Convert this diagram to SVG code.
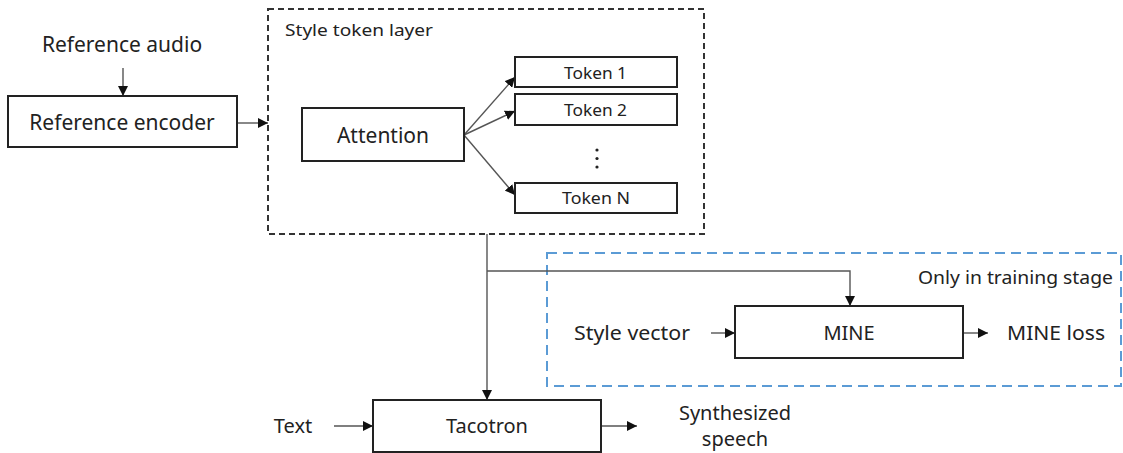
<svg xmlns="http://www.w3.org/2000/svg" width="1123" height="453" viewBox="0 0 1123 453">
  <defs>
    <marker id="arrow" viewBox="0 0 10 10" refX="10" refY="5" markerWidth="10" markerHeight="10" markerUnits="userSpaceOnUse" orient="auto">
      <path d="M0,0 L10,5 L0,10 Z" fill="#111"/>
    </marker>
    <style>
      text { font-family: "Noto Sans", "Open Sans", sans-serif; fill: #222; }
      .lg { font-size: 21px; }
      .md { font-size: 20px; }
      .sm { font-size: 17px; }
      .box { fill: #fff; stroke: #222; stroke-width: 2; }
      .conn { fill: none; stroke: #555; stroke-width: 1.4; }
      .group-black { fill: none; stroke: #333; stroke-width: 2; stroke-dasharray: 6 4; }
      .group-blue { fill: none; stroke: #5b9bd5; stroke-width: 2; stroke-dasharray: 10 6; }
    </style>
  </defs>

  <rect width="1123" height="453" fill="#fff"/>

  <!-- container frames -->
  <g id="style-token-layer">
    <rect class="group-black" x="268" y="9" width="436" height="225"/>
    <text class="sm" x="285" y="36" textLength="148" lengthAdjust="spacingAndGlyphs">Style token layer</text>
  </g>
  <g id="training-stage">
    <rect class="group-blue" x="547" y="253" width="574" height="133"/>
    <text x="918" y="284" style="font-size:18.5px" textLength="195" lengthAdjust="spacingAndGlyphs">Only in training stage</text>
  </g>

  <!-- connectors -->
  <g id="connectors">
    <line class="conn" x1="123" y1="68" x2="123" y2="96" marker-end="url(#arrow)"/>
    <line class="conn" x1="237" y1="123" x2="268" y2="123" marker-end="url(#arrow)"/>
    <line class="conn" x1="464" y1="135" x2="515" y2="77" marker-end="url(#arrow)"/>
    <line class="conn" x1="464" y1="135" x2="515" y2="111" marker-end="url(#arrow)"/>
    <line class="conn" x1="464" y1="135" x2="515" y2="195" marker-end="url(#arrow)"/>
    <line class="conn" x1="487" y1="234" x2="487" y2="400" marker-end="url(#arrow)"/>
    <polyline class="conn" points="487,271 850,271 850,306" marker-end="url(#arrow)"/>
    <line class="conn" x1="711" y1="333" x2="735" y2="333" marker-end="url(#arrow)"/>
    <line class="conn" x1="963" y1="333" x2="988" y2="333" marker-end="url(#arrow)"/>
    <line class="conn" x1="334" y1="426" x2="373" y2="426" marker-end="url(#arrow)"/>
    <line class="conn" x1="601" y1="426" x2="637" y2="426" marker-end="url(#arrow)"/>
  </g>

  <!-- plain labels -->
  <g id="reference-audio">
    <text class="lg" x="122" y="52" text-anchor="middle">Reference audio</text>
  </g>
  <g id="style-vector">
    <text class="md" x="574" y="340" textLength="116" lengthAdjust="spacingAndGlyphs">Style vector</text>
  </g>
  <g id="mine-loss">
    <text class="md" x="1007" y="340" textLength="98" lengthAdjust="spacingAndGlyphs">MINE loss</text>
  </g>
  <g id="text-input">
    <text class="md" x="293" y="433" text-anchor="middle">Text</text>
  </g>
  <g id="synthesized-speech">
    <text class="md" x="735" y="420" text-anchor="middle">Synthesized</text>
    <text class="md" x="735" y="446" text-anchor="middle">speech</text>
  </g>

  <!-- blocks -->
  <g id="reference-encoder">
    <rect class="box" x="8" y="96" width="229" height="51"/>
    <text class="lg" x="122" y="130" text-anchor="middle">Reference encoder</text>
  </g>
  <g id="attention">
    <rect class="box" x="302" y="108" width="162" height="53"/>
    <text class="lg" x="383" y="143" text-anchor="middle">Attention</text>
  </g>
  <g id="token-1">
    <rect class="box" x="515" y="57" width="162" height="30"/>
    <text class="sm" x="564" y="79" textLength="63" lengthAdjust="spacingAndGlyphs">Token 1</text>
  </g>
  <g id="token-2">
    <rect class="box" x="515" y="94" width="162" height="31"/>
    <text class="sm" x="564" y="116" textLength="63" lengthAdjust="spacingAndGlyphs">Token 2</text>
  </g>
  <g id="token-ellipsis">
    <circle cx="597" cy="150" r="1.6" fill="#222"/>
    <circle cx="597" cy="158.5" r="1.6" fill="#222"/>
    <circle cx="597" cy="167" r="1.6" fill="#222"/>
  </g>
  <g id="token-n">
    <rect class="box" x="515" y="183" width="162" height="30"/>
    <text class="sm" x="562" y="204" textLength="68" lengthAdjust="spacingAndGlyphs">Token N</text>
  </g>
  <g id="mine">
    <rect class="box" x="735" y="306" width="228" height="52"/>
    <text class="md" x="849" y="340" text-anchor="middle">MINE</text>
  </g>
  <g id="tacotron">
    <rect class="box" x="373" y="400" width="228" height="52"/>
    <text class="md" x="487" y="433" text-anchor="middle">Tacotron</text>
  </g>
</svg>
